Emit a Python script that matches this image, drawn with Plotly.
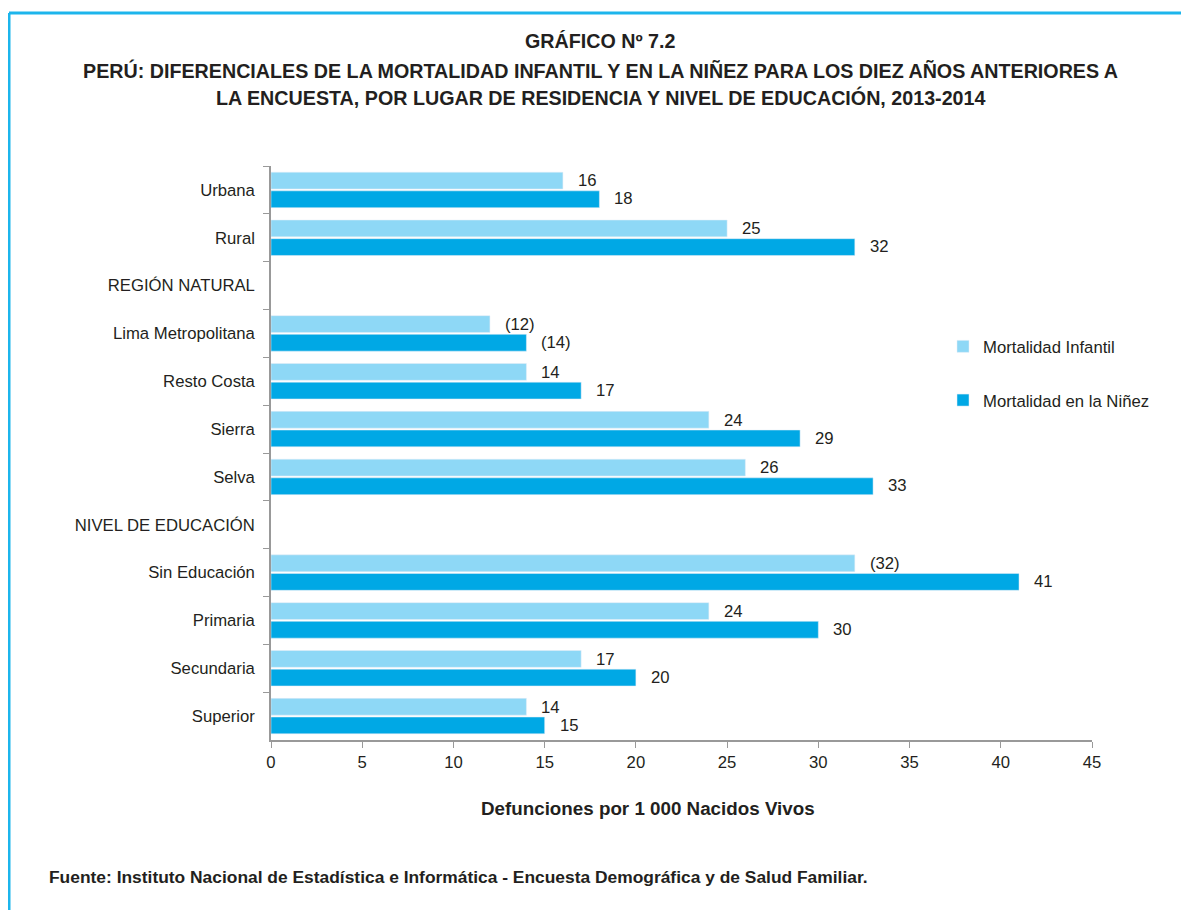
import plotly.graph_objects as go

categorias = ["Urbana", "Rural", "REGIÓN NATURAL", "Lima Metropolitana", "Resto Costa",
              "Sierra", "Selva", "NIVEL DE EDUCACIÓN", "Sin Educación", "Primaria",
              "Secundaria", "Superior"]
infantil = [16, 25, None, 12, 14, 24, 26, None, 32, 24, 17, 14]
ninez = [18, 32, None, 14, 17, 29, 33, None, 41, 30, 20, 15]
texto_infantil = ["16", "25", "", "(12)", "14", "24", "26", "", "(32)", "24", "17", "14"]
texto_ninez = ["18", "32", "", "(14)", "17", "29", "33", "", "41", "30", "20", "15"]
x_ticks = list(range(0, 50, 5))

C_LIGHT = "#8ED8F6"
C_DARK = "#00A8E5"
C_FRAME = "#1CB5EC"
TXT = "#231F20"
BASE = "Liberation Sans, Arial, sans-serif"
NARROW = "Liberation Sans Narrow, Arial Narrow, Liberation Sans, Arial, sans-serif"

# the page adds an 8px body margin, so the figure is drawn 8px smaller
OFF = 8
W, H = 1189 - OFF, 910 - OFF
# plot area in reference (screen) pixels
L, R, T, B = 271, 1092, 166, 740


def px(x):
    return (x - L) / (R - L)


def py(y):
    return (B - y) / (B - T)


fig = go.Figure()
fig.add_trace(go.Bar(y=categorias, x=infantil, orientation="h", name="Mortalidad Infantil",
                     marker_color=C_LIGHT, legendgroup="a"))
fig.add_trace(go.Bar(y=categorias, x=ninez, orientation="h", name="Mortalidad en la Niñez",
                     marker_color=C_DARK, legendgroup="b"))

# value labels
for cat, v, t in zip(categorias, infantil, texto_infantil):
    if v is not None:
        fig.add_annotation(x=v, y=cat, text=t, showarrow=False, xanchor="left",
                           xshift=13, yshift=9, font=dict(family=BASE, size=16.7, color=TXT))
for cat, v, t in zip(categorias, ninez, texto_ninez):
    if v is not None:
        fig.add_annotation(x=v, y=cat, text=t, showarrow=False, xanchor="left",
                           xshift=13, yshift=-9, font=dict(family=BASE, size=16.7, color=TXT))

# titles
titulos = [("GRÁFICO Nº 7.2", 41),
           ("PERÚ: DIFERENCIALES DE LA MORTALIDAD INFANTIL Y EN LA NIÑEZ PARA LOS DIEZ AÑOS ANTERIORES A", 70),
           ("LA ENCUESTA, POR LUGAR DE RESIDENCIA Y NIVEL DE EDUCACIÓN, 2013-2014", 97)]
for txt, y in titulos:
    fig.add_annotation(xref="paper", yref="paper", x=px(600), y=py(y), text=f"<b>{txt}</b>",
                       showarrow=False, xanchor="center", yanchor="middle",
                       font=dict(family=NARROW, size=19.7, color=TXT))

fig.add_annotation(xref="paper", yref="paper", x=px(648), y=py(808),
                   text="<b>Defunciones por 1 000 Nacidos Vivos</b>", showarrow=False,
                   xanchor="center", yanchor="middle", font=dict(family=NARROW, size=18.8, color=TXT))
fig.add_annotation(xref="paper", yref="paper", x=px(47), y=py(877),
                   text="<b>Fuente: Instituto Nacional de Estadística e Informática - Encuesta Demográfica y de Salud Familiar.</b>",
                   showarrow=False, xanchor="left", yanchor="middle",
                   font=dict(family=NARROW, size=17.4, color=TXT))

# frame (top and left edges visible)
fig.add_shape(type="line", xref="paper", yref="paper", x0=px(9), x1=px(1200), y0=py(13), y1=py(13),
              line=dict(color=C_FRAME, width=3))
fig.add_shape(type="line", xref="paper", yref="paper", x0=px(9), x1=px(9), y0=py(13), y1=py(920),
              line=dict(color=C_FRAME, width=3))

fig.update_layout(
    width=W, height=H,
    margin=dict(l=L - OFF, r=W - (R - OFF), t=T - OFF, b=H - (B - OFF)),
    paper_bgcolor="white", plot_bgcolor="white",
    barmode="group", bargap=0.22, bargroupgap=0.1,
    font=dict(family=BASE, size=16.7, color=TXT),
    legend=dict(x=px(943), y=py(329), xanchor="left", yanchor="top",
                tracegroupgap=29, itemwidth=30, font=dict(size=16.7, color=TXT),
                bgcolor="rgba(0,0,0,0)"),
    xaxis=dict(range=[0, 45], tickvals=x_ticks, ticks="outside", ticklen=6,
               tickcolor="#999999", showline=True, linecolor="#999999", linewidth=1.5,
               showgrid=False, zeroline=False, tickfont=dict(size=16.7, color=TXT)),
    yaxis=dict(autorange="reversed", ticks="outside", ticklen=6, tickson="boundaries",
               tickcolor="#999999", showline=True, linecolor="#999999", linewidth=1.5,
               showgrid=False, ticklabelstandoff=11, tickfont=dict(size=16.7, color=TXT)),
)

fig.write_html("out.html")
